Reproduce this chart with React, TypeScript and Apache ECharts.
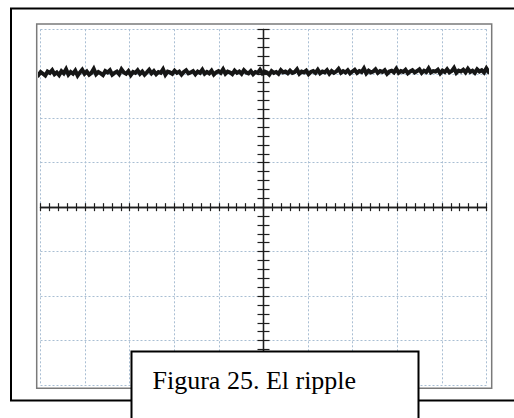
import React, { useEffect, useRef } from "react";
import * as echarts from "echarts";

// Oscilloscope screen: 10 horizontal divisions, 8 vertical divisions
const xDivisions = [-5, 5];
const yDivisions = [-4, 4];
const caption = "Figura 25. El ripple";

// Trace span (in divisions) and the ripple values (divisions above centre)
const traceStart = -5.1;
const traceEnd = 5.1;
const ripple = [
  3.01, 2.97, 3.04, 3.0, 2.96, 3.05, 3.02, 3.08, 2.99, 3.03, 2.97, 3.06, 3.01, 3.1, 2.98, 3.04,
  3.0, 3.07, 2.96, 3.03, 3.09, 3.0, 3.05, 2.98, 3.02, 3.11, 2.99, 3.04, 3.01, 2.97, 3.06, 3.03,
  3.08, 2.98, 3.02, 3.05, 2.99, 3.1, 3.03, 3.0, 3.06, 2.97, 3.04, 3.02, 3.08, 3.0, 3.05, 2.98,
  3.03, 3.09, 3.01, 3.06, 2.99, 3.04, 3.02, 3.1, 2.98, 3.05, 3.03, 3.0, 3.07, 3.02, 3.05, 2.98,
  3.04, 3.08, 3.01, 3.03, 3.06, 2.99, 3.05, 3.02, 3.09, 3.0, 3.04, 3.01, 3.07, 2.98, 3.03, 3.06,
  3.02, 3.1, 3.0, 3.05, 3.03, 2.99, 3.07, 3.02, 3.05, 3.0, 3.08, 3.03, 3.01, 3.06, 2.99, 3.04,
  3.02, 3.09, 3.01, 3.05, 3.03, 2.98, 3.06, 3.02, 3.04, 3.0, 3.08, 3.03, 3.05, 3.01, 3.07, 3.02,
  3.04, 3.1, 3.0, 3.05, 3.03, 3.07, 2.99, 3.04, 3.06, 3.02, 3.09, 3.01, 3.05, 3.03, 3.08, 3.0,
  3.06, 3.02, 3.05, 3.11, 3.02, 3.06, 3.03, 3.08, 3.01, 3.05, 3.09, 3.02, 3.06, 3.04, 3.12, 3.01,
  3.07, 3.03, 3.05, 3.1, 3.02, 3.06, 3.04, 3.08, 3.0, 3.05, 3.07, 3.03, 3.11, 3.02, 3.06, 3.04,
  3.09, 3.01, 3.05, 3.08, 3.03, 3.06, 3.1, 3.02, 3.07, 3.04, 3.12, 3.03, 3.06, 3.05, 3.09, 3.01,
  3.07, 3.04, 3.1, 3.03, 3.06, 3.13, 3.02, 3.07, 3.05, 3.09, 3.03, 3.11, 3.04, 3.07, 3.02, 3.1,
  3.05, 3.08, 3.03, 3.12, 3.04, 3.07,
];

const GRID_DOT = "#a9bed3";
const TICK = "#1e1e1e";

export default function App() {
  const ref = useRef<HTMLDivElement>(null);

  useEffect(() => {
    if (!ref.current) return;
    const chart = echarts.init(ref.current, undefined, { renderer: "svg" });

    const n = ripple.length;
    const traceData = ripple.map((v, i) => [
      traceStart + ((traceEnd - traceStart) * i) / (n - 1),
      v,
    ]);

    const baseX = {
      type: "value" as const,
      min: xDivisions[0],
      max: xDivisions[1],
      interval: 1,
      axisLabel: { show: false },
      axisLine: { show: true, onZero: true, lineStyle: { color: TICK, width: 1.3 } },
      axisTick: { show: true, inside: false, length: 4, lineStyle: { color: TICK, width: 1.2 } },
      minorTick: { show: true, splitNumber: 5, length: 4, lineStyle: { color: TICK, width: 1.2 } },
    };
    const baseY = {
      type: "value" as const,
      min: yDivisions[0],
      max: yDivisions[1],
      interval: 1,
      axisLabel: { show: false },
      axisLine: { show: true, onZero: true, lineStyle: { color: TICK, width: 1.3 } },
      axisTick: { show: true, inside: false, length: 6, lineStyle: { color: TICK, width: 1.2 } },
      minorTick: { show: true, splitNumber: 5, length: 6, lineStyle: { color: TICK, width: 1.2 } },
    };

    chart.setOption({
      animation: false,
      backgroundColor: "#ffffff",
      grid: { left: 40.5, top: 29.3, right: 27.5, bottom: 33, containLabel: false },
      xAxis: [
        {
          ...baseX,
          position: "bottom",
          splitLine: {
            show: true,
            showMinLine: true,
            showMaxLine: true,
            lineStyle: { color: GRID_DOT, width: 1, type: [2, 2] },
          },
        },
        { ...baseX, position: "top", splitLine: { show: false } },
      ],
      yAxis: [
        {
          ...baseY,
          position: "left",
          splitLine: {
            show: true,
            showMinLine: true,
            showMaxLine: true,
            lineStyle: { color: GRID_DOT, width: 1, type: [2, 2] },
          },
        },
        { ...baseY, position: "right", splitLine: { show: false } },
      ],
      series: [
        {
          type: "line",
          data: traceData,
          xAxisIndex: 0,
          yAxisIndex: 0,
          showSymbol: false,
          clip: false,
          z: 5,
          lineStyle: { color: "#161616", width: 4, join: "miter" },
        },
      ],
      graphic: [
        {
          type: "rect",
          z: 50,
          shape: { x: 11, y: 8.5, width: 520, height: 392 },
          style: { fill: "none", stroke: "#000000", lineWidth: 2 },
          silent: true,
        },
        {
          type: "rect",
          z: 50,
          shape: { x: 36.7, y: 24, width: 455, height: 364.3 },
          style: { fill: "none", stroke: "#7a7a7a", lineWidth: 1.5 },
          silent: true,
        },
        {
          type: "rect",
          z: 100,
          shape: { x: 131.5, y: 351.5, width: 287, height: 90 },
          style: { fill: "#ffffff", stroke: "#000000", lineWidth: 2 },
          silent: true,
        },
        {
          type: "text",
          z: 101,
          x: 152.5,
          y: 380,
          style: {
            text: caption,
            font: '26px "Liberation Serif", "Times New Roman", serif',
            fill: "#000000",
            verticalAlign: "middle",
            align: "left",
          },
          silent: true,
        },
      ],
    });

    return () => chart.dispose();
  }, []);

  return (
    <div
      ref={ref}
      style={{ position: "absolute", left: 0, top: 0, width: 514, height: 418, background: "#fff" }}
    />
  );
}
